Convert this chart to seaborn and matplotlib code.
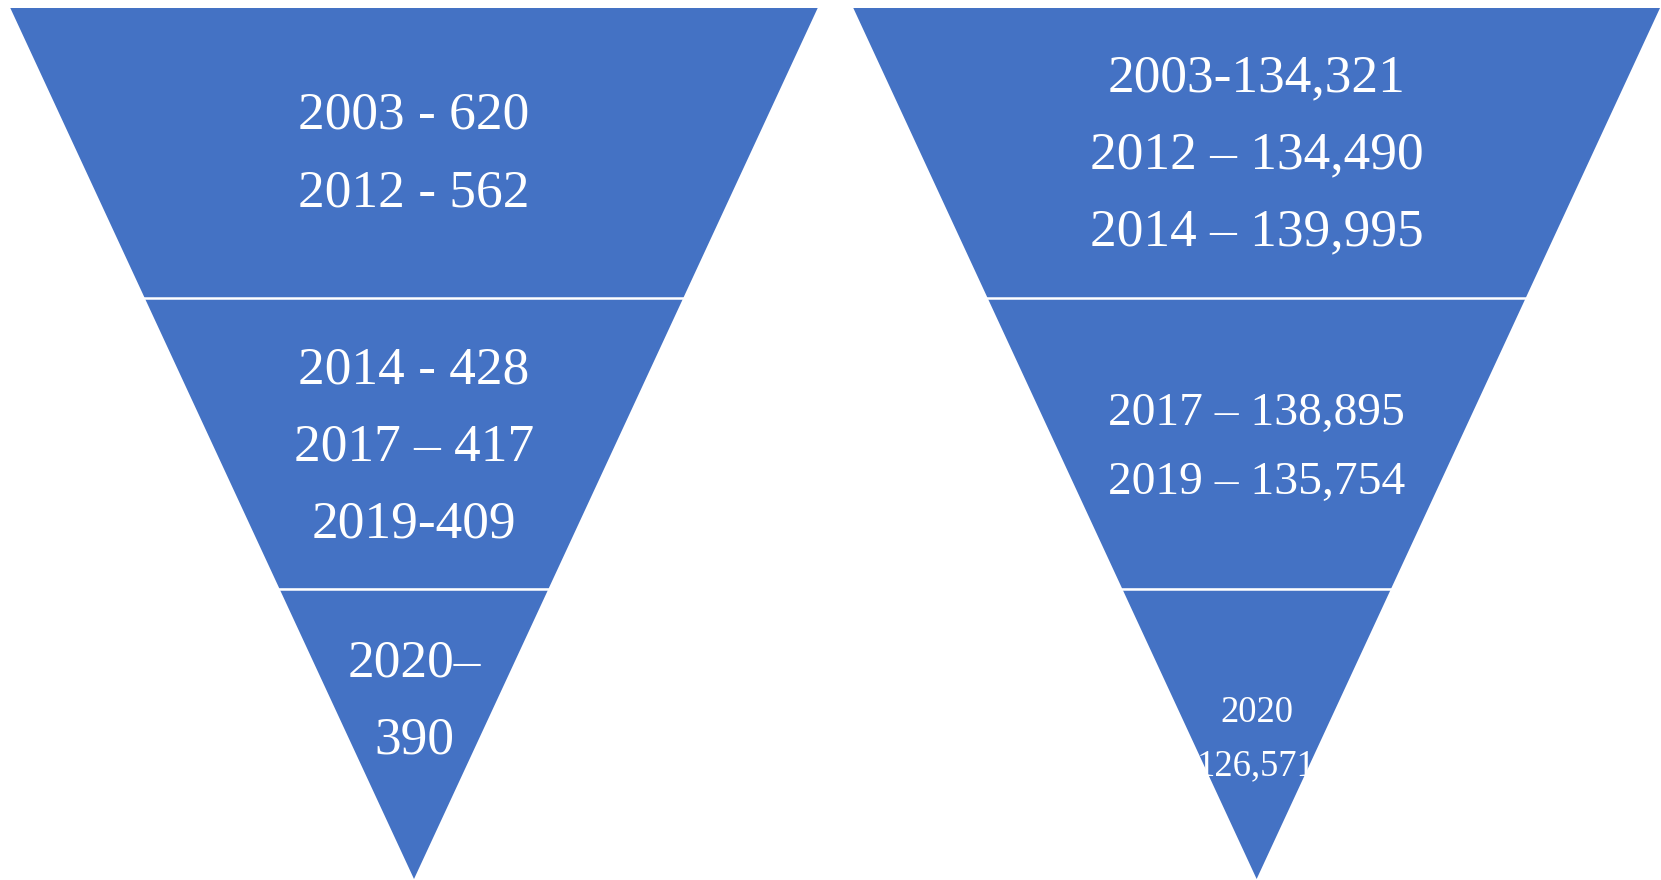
import matplotlib
matplotlib.use("Agg")
import matplotlib.pyplot as plt
import seaborn as sns
from matplotlib.patches import Polygon
from matplotlib.transforms import offset_copy

# textos de cada nivel, de arriba (nivel ancho) hacia abajo (punta)
izq_etiquetas = [
    ["2003 - 620", "2012 - 562"],
    ["2014 - 428", "2017 \u2013 417", "2019-409"],
    ["2020\u2013", "390"],
]
der_etiquetas = [
    ["2003-134,321", "2012 \u2013 134,490", "2014 \u2013 139,995"],
    ["2017 \u2013 138,895", "2019 \u2013 135,754"],
    ["2020", "126,571"],
]

sns.set_theme(style="white")
plt.rcParams['font.family'] = ['Liberation Serif', 'DejaVu Serif']

azul = "#4472C4"
W, H = 1661, 880
fig = plt.figure(figsize=(W / 100, H / 100), dpi=100)


def piramide(ax, etiquetas, tamanos, desplaz):
    n = len(etiquetas)
    for i, lineas in enumerate(etiquetas):
        arriba = n - i
        abajo = n - i - 1
        verts = [(-arriba / n, arriba), (arriba / n, arriba),
                 (abajo / n, abajo), (-abajo / n, abajo)]
        poly = Polygon(verts, closed=True, facecolor=azul, edgecolor='none')
        ax.add_patch(poly)
        paso = 1.445 * tamanos[i]
        yc = (arriba + abajo) / 2
        for j, linea in enumerate(lineas):
            dy = ((len(lineas) - 1) / 2 - j) * paso + desplaz[i]
            tr = offset_copy(ax.transData, fig=fig, x=0, y=dy, units='points')
            t = ax.text(0, yc, linea, transform=tr, ha='center', va='center_baseline',
                        fontsize=tamanos[i], color='white')
            t.set_clip_path(poly)
    # separadores blancos entre niveles
    ax.hlines(range(1, n), -1, 1, colors='white', linewidth=1.8)
    ax.set_xlim(-1, 1)
    ax.set_ylim(0, n)
    ax.axis('off')


# piramide izquierda
ax1 = fig.add_axes([10.3 / W, 1 / H, (817.7 - 10.3) / W, 871 / H])
piramide(ax1, izq_etiquetas, [38.4, 38.4, 38.4], [3, 1, 26.6])

# piramide derecha
ax2 = fig.add_axes([853.3 / W, 1 / H, (1660 - 853.3) / W, 871 / H])
piramide(ax2, der_etiquetas, [38.4, 34.2, 26.4], [2.5, 0, -1])

plt.savefig("out.png", dpi=100)
